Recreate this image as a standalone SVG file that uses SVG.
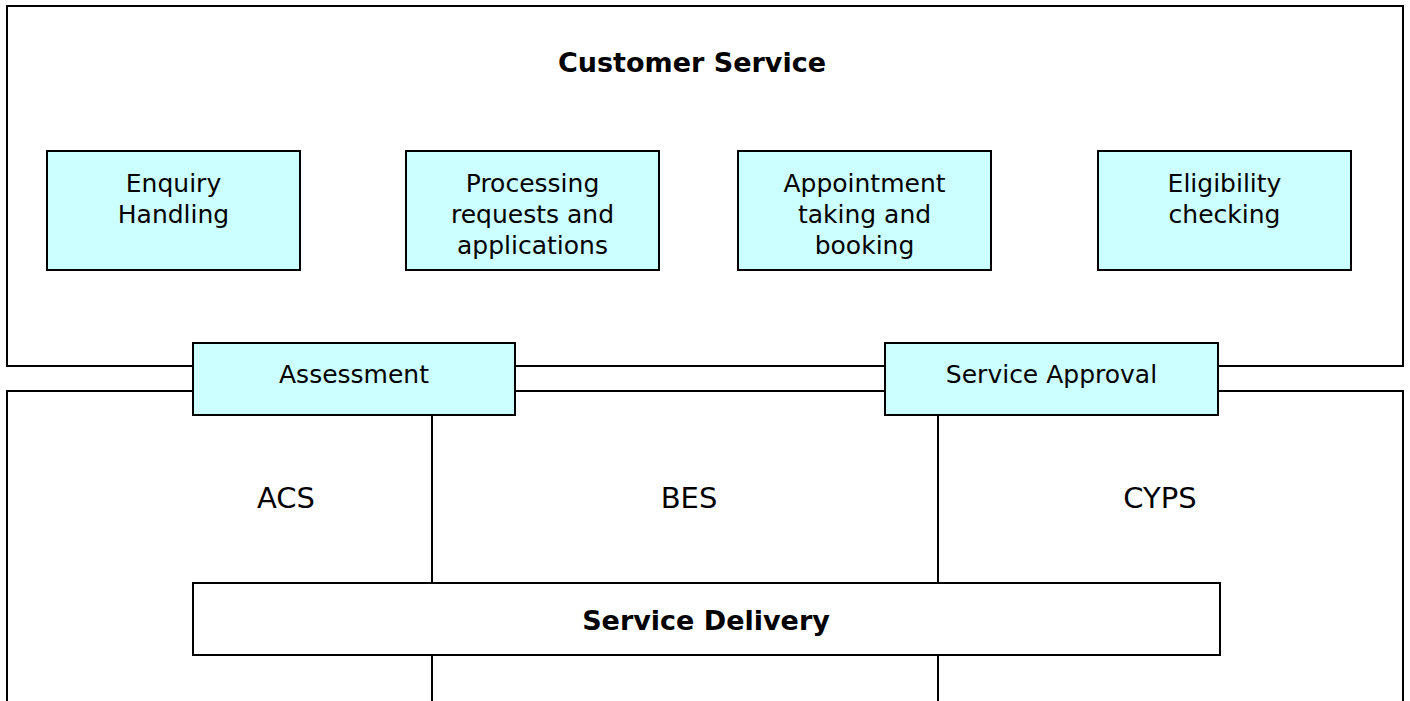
<svg xmlns="http://www.w3.org/2000/svg" width="1410" height="701" viewBox="0 0 1410 701">
  <style>
    .frame { fill: #ffffff; stroke: #000000; stroke-width: 2; }
    .line { fill: none; stroke: #000000; stroke-width: 2; }
    .node { fill: #ccffff; stroke: #000000; stroke-width: 2; }
    .plain { fill: #ffffff; stroke: #000000; stroke-width: 2; }
    text { font-family: "DejaVu Sans", "Liberation Sans", sans-serif; fill: #000000; text-anchor: middle; }
    .lbl { font-size: 25px; }
    .big { font-size: 29px; }
    .bold { font-size: 27px; font-weight: bold; }
  </style>

  <!-- upper area: Customer Service -->
  <g id="customer-service">
    <rect class="frame" x="7" y="6" width="1396" height="360"/>
    <text class="bold" x="692" y="72">Customer Service</text>
  </g>

  <!-- lower area, open at the bottom edge -->
  <g id="service-area">
    <path class="line" d="M7,701 V391 H1403 V701"/>
    <text class="big" x="286" y="508">ACS</text>
    <text class="big" x="689" y="508">BES</text>
    <text class="big" x="1160" y="508">CYPS</text>
  </g>

  <!-- dividers between ACS, BES and CYPS -->
  <g id="connectors">
    <line class="line" x1="432" y1="415" x2="432" y2="583"/>
    <line class="line" x1="938" y1="415" x2="938" y2="583"/>
    <line class="line" x1="432" y1="655" x2="432" y2="701"/>
    <line class="line" x1="938" y1="655" x2="938" y2="701"/>
  </g>

  <g id="enquiry-handling">
    <rect class="node" x="47" y="151" width="253" height="119"/>
    <text class="lbl" x="173.5" y="192">Enquiry</text>
    <text class="lbl" x="173.5" y="223">Handling</text>
  </g>

  <g id="processing-requests">
    <rect class="node" x="406" y="151" width="253" height="119"/>
    <text class="lbl" x="532.5" y="192">Processing</text>
    <text class="lbl" x="532.5" y="223">requests and</text>
    <text class="lbl" x="532.5" y="254">applications</text>
  </g>

  <g id="appointment-taking">
    <rect class="node" x="738" y="151" width="253" height="119"/>
    <text class="lbl" x="864.5" y="192">Appointment</text>
    <text class="lbl" x="864.5" y="223">taking and</text>
    <text class="lbl" x="864.5" y="254">booking</text>
  </g>

  <g id="eligibility-checking">
    <rect class="node" x="1098" y="151" width="253" height="119"/>
    <text class="lbl" x="1224.5" y="192">Eligibility</text>
    <text class="lbl" x="1224.5" y="223">checking</text>
  </g>

  <g id="assessment">
    <rect class="node" x="193" y="343" width="322" height="72"/>
    <text class="lbl" x="354" y="383">Assessment</text>
  </g>

  <g id="service-approval">
    <rect class="node" x="885" y="343" width="333" height="72"/>
    <text class="lbl" x="1051.5" y="383">Service Approval</text>
  </g>

  <g id="service-delivery">
    <rect class="plain" x="193" y="583" width="1027" height="72"/>
    <text class="bold" x="706" y="630">Service Delivery</text>
  </g>
</svg>
